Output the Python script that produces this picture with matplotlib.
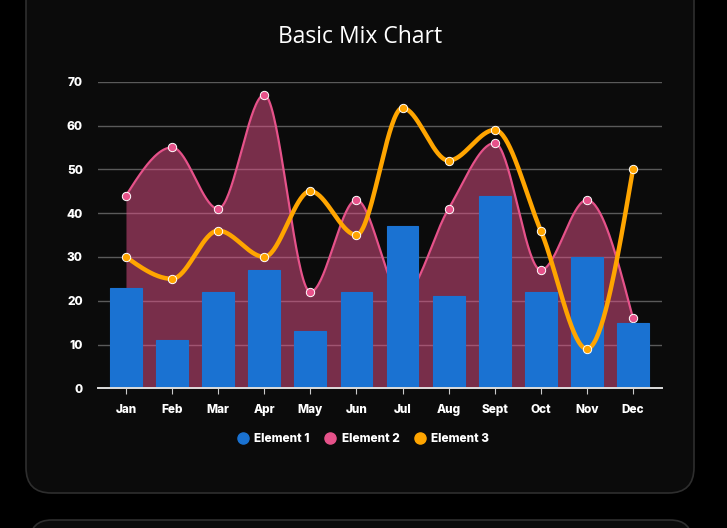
import numpy as np
import matplotlib
matplotlib.use("Agg")
import matplotlib.pyplot as plt
from matplotlib.patches import FancyBboxPatch
from matplotlib.lines import Line2D

months = ["Jan", "Feb", "Mar", "Apr", "May", "Jun", "Jul", "Aug", "Sept", "Oct", "Nov", "Dec"]
element1 = [23, 11, 22, 27, 13, 22, 37, 21, 44, 22, 30, 15]
element2 = [44, 55, 41, 67, 22, 43, 21, 41, 56, 27, 43, 16]
element3 = [30, 25, 36, 30, 45, 35, 64, 52, 59, 36, 9, 50]
yticks = [0, 10, 20, 30, 40, 50, 60, 70]

C1 = "#1a72d2"
C2 = "#e6528a"
C3 = "#ffa500"

FONT = ["Inter", "DejaVu Sans"]


def monotone(xs, ys, n=40):
    xs = np.asarray(xs, float)
    ys = np.asarray(ys, float)
    h = np.diff(xs)
    s = np.diff(ys) / h
    m = len(xs)
    t = np.zeros(m)
    for i in range(1, m - 1):
        s0, s1 = s[i - 1], s[i]
        if s0 * s1 <= 0:
            t[i] = 0.0
        else:
            p = (s0 * h[i] + s1 * h[i - 1]) / (h[i - 1] + h[i])
            t[i] = (np.sign(s0) + np.sign(s1)) * min(abs(s0), abs(s1), 0.5 * abs(p))
    t[0] = (3 * s[0] - t[1]) / 2
    t[-1] = (3 * s[-1] - t[-2]) / 2
    px, py = [], []
    u = np.linspace(0, 1, n)
    for i in range(m - 1):
        dx = h[i] / 3
        P0 = (xs[i], ys[i])
        P1 = (xs[i] + dx, ys[i] + t[i] * dx)
        P2 = (xs[i + 1] - dx, ys[i + 1] - t[i + 1] * dx)
        P3 = (xs[i + 1], ys[i + 1])
        bx = (1 - u) ** 3 * P0[0] + 3 * (1 - u) ** 2 * u * P1[0] + 3 * (1 - u) * u ** 2 * P2[0] + u ** 3 * P3[0]
        by = (1 - u) ** 3 * P0[1] + 3 * (1 - u) ** 2 * u * P1[1] + 3 * (1 - u) * u ** 2 * P2[1] + u ** 3 * P3[1]
        if i > 0:
            bx, by = bx[1:], by[1:]
        px.extend(bx)
        py.extend(by)
    return np.array(px), np.array(py)


W, H = 727, 528
fig = plt.figure(figsize=(W / 100, H / 100), dpi=100)
fig.patch.set_facecolor("#000000")

# cards
card = FancyBboxPatch((26 / W, 1 - 493 / H), (694 - 26) / W, (493 + 30) / H,
                      boxstyle="round,pad=0,rounding_size=0.035",
                      transform=fig.transFigure, facecolor="#0b0b0b",
                      edgecolor="#2e2e2e", linewidth=1.2, mutation_aspect=W / H,
                      zorder=-5)
fig.patches.append(card)
card2 = FancyBboxPatch((30 / W, 1 - 560 / H), (692 - 30) / W, 40 / H,
                       boxstyle="round,pad=0,rounding_size=0.03",
                       transform=fig.transFigure, facecolor="#0b0b0b",
                       edgecolor="#2e2e2e", linewidth=1.2, mutation_aspect=W / H,
                       zorder=-5)
fig.patches.append(card2)

fig.text(360 / W, 1 - 37 / H, "Basic Mix Chart", ha="center", va="center",
         color="white", fontsize=16.5, family=["Open Sans", "DejaVu Sans"])

ax_l, ax_r, ax_t, ax_b = 98, 662, 81.7, 388.3
ax = fig.add_axes([ax_l / W, 1 - ax_b / H, (ax_r - ax_l) / W, (ax_b - ax_t) / H])
ax.set_facecolor("none")
ax.set_zorder(5)

x = np.arange(len(months))

# Element 2 area
cx, cy = monotone(x, element2)
ax.fill_between(cx, 0, cy, color=C2, alpha=0.5, linewidth=0, zorder=1)
ax.plot(cx, cy, color=C2, lw=1.6, zorder=2)
ax.plot(x, element2, "o", color=C2, markersize=6, markeredgecolor="white",
        markeredgewidth=0.7, zorder=2.5)

# Element 1 bars
ax.bar(x, element1, width=0.69, color=C1, edgecolor=C1, linewidth=0.8, zorder=3)

# Element 3 line
ox, oy = monotone(x, element3)
ax.plot(ox, oy, color=C3, lw=3.2, zorder=4, solid_capstyle="round")
ax.plot(x, element3, "o", color=C3, markersize=6, markeredgecolor="white",
        markeredgewidth=0.7, zorder=5)

ax.set_xlim(-0.607, 11.63)
ax.set_ylim(0, 70)
ax.set_yticks(yticks)
ax.set_xticks(x)
ax.set_xticklabels(months)
ax.grid(axis="y", color="#5a5a5a", lw=1, zorder=0)
ax.set_axisbelow(True)
for sp in ["top", "left", "right"]:
    ax.spines[sp].set_visible(False)
ax.spines["bottom"].set_color("#dddddd")
ax.spines["bottom"].set_linewidth(1.4)
ax.spines["bottom"].set_zorder(6)
ax.tick_params(axis="y", length=0, pad=11, labelcolor="white", labelsize=8.5)
ax.tick_params(axis="x", length=4, width=0.8, color="#cccccc", pad=7,
               labelcolor="white", labelsize=8.5)
for lab in ax.get_xticklabels() + ax.get_yticklabels():
    lab.set_fontweight("heavy")
    lab.set_family(FONT)

handles = [Line2D([], [], marker="o", linestyle="none", markersize=8,
                  markerfacecolor=c, markeredgecolor=c) for c in (C1, C2, C3)]
leg = fig.legend(handles, ["Element 1", "Element 2", "Element 3"],
                 loc="center", bbox_to_anchor=(360 / W, 1 - 439 / H), ncol=3,
                 frameon=False, handletextpad=0.0, columnspacing=0.7,
                 prop={"weight": "heavy", "size": 8.5, "family": FONT})
for t in leg.get_texts():
    t.set_color("white")

fig.savefig("out.png", dpi=100, facecolor=fig.get_facecolor())
